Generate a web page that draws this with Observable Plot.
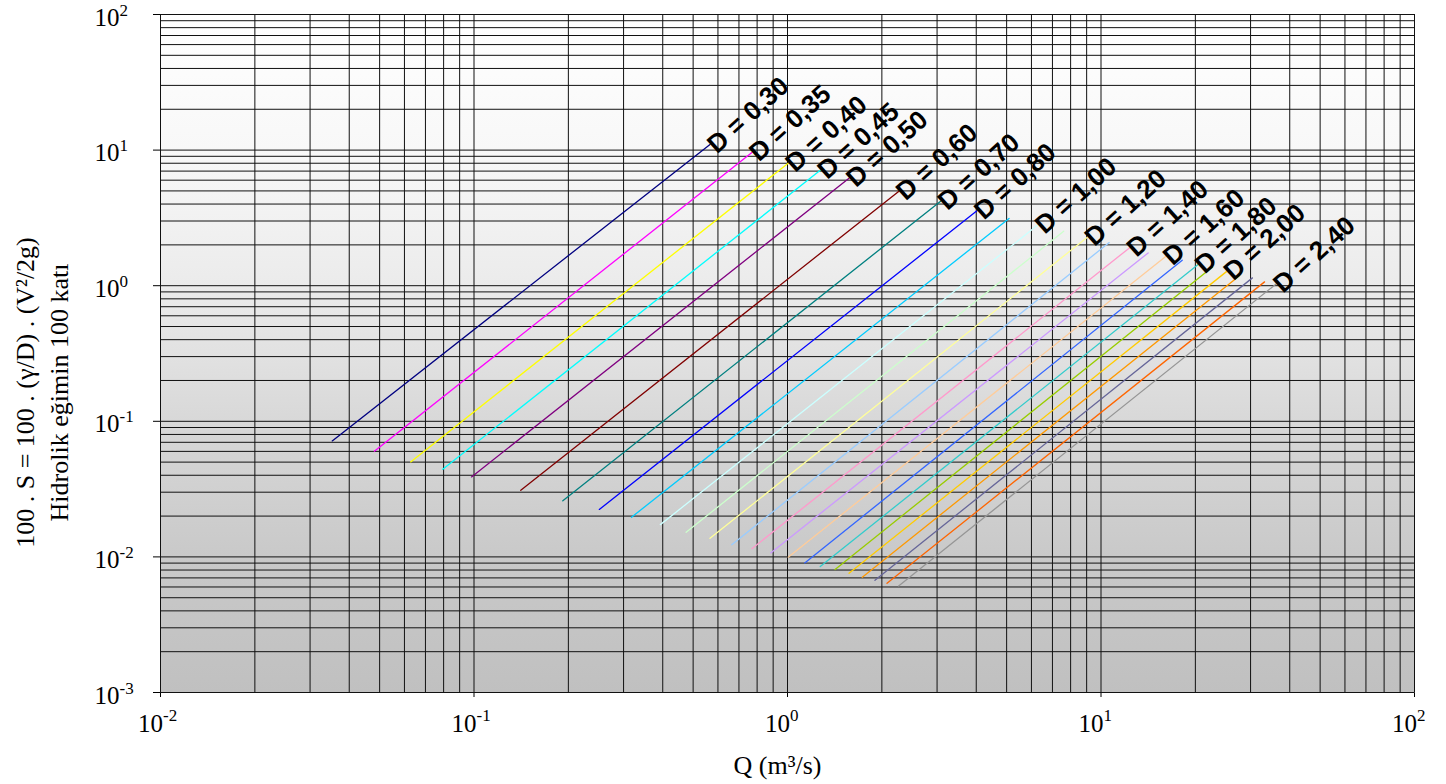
<!DOCTYPE html>
<html><head><meta charset="utf-8">
<script src="https://cdn.jsdelivr.net/npm/d3@7"></script>
<script src="https://cdn.jsdelivr.net/npm/@observablehq/plot@0.6"></script>
<style>html,body{margin:0;padding:0;background:#fff;overflow:hidden}</style>
</head><body><div id="chart"></div>
<script>
// Pipe diameters (m), one line each
const diameters = [0.30,0.35,0.40,0.45,0.50,0.60,0.70,0.80,0.90,1.00,1.10,1.20,1.30,1.40,1.50,1.60,1.70,1.80,1.90,2.00,2.10,2.20,2.30,2.40];
// Line start (Q, 100.S)
const qStart = [0.0353,0.0481,0.0628,0.0795,0.0982,0.141,0.192,0.251,0.318,0.393,0.475,0.566,0.664,0.770,0.884,1.005,1.135,1.272,1.418,1.571,1.732,1.901,2.077,2.262];
const yStart = [0.0717,0.0602,0.0502,0.0443,0.0389,0.0310,0.0259,0.0224,0.0196,0.0173,0.0152,0.0137,0.0123,0.0115,0.0107,0.00995,0.00903,0.00850,0.00807,0.00758,0.00708,0.00673,0.00639,0.00611];
// Line end (Q, 100.S)
const qEnd = [0.566,0.770,1.005,1.272,1.571,2.262,3.079,4.021,5.089,6.283,7.603,9.048,10.62,12.32,14.14,16.08,18.16,20.36,22.68,25.13,27.71,30.41,33.24,36.19];
const yEnd = [11.0,9.6,8.0,7.1,6.2,4.96,4.2,3.57,3.13,2.8,2.52,2.28,2.08,1.90,1.745,1.64,1.54,1.43,1.376,1.27,1.19,1.142,1.067,1.03];
const colors = ["#000080","#ff00ff","#ffff00","#00ffff","#800080","#800000","#008080","#0000ff","#00ccff","#ccffff","#ccffcc","#ffff99","#99ccff","#ff99cc","#cc99ff","#ffcc99","#3366ff","#33cccc","#99cc00","#ffcc00","#ff9900","#666699","#ff6600","#969696"];
const labeledDiameters = [0.30,0.35,0.40,0.45,0.50,0.60,0.70,0.80,1.00,1.20,1.40,1.60,1.80,2.00,2.40];
const xTickValues = [0.01,0.1,1,10,100];
const xTickExps = ["-2","-1","0","1","2"];
const yTickValues = [0.001,0.01,0.1,1,10,100];
const yTickExps = ["-3","-2","-1","0","1","2"];
const xTitle = "Q (m³/s)";
const yTitle1 = "100 . S = 100 . (γ/D) . (V²/2g)";
const yTitle2 = "Hidrolik eğimin 100 katı";

const lineData = diameters.flatMap((d, i) => [
  {d, q: qStart[i], s: yStart[i], color: colors[i]},
  {d, q: qEnd[i], s: yEnd[i], color: colors[i]}
]);
const labelData = labeledDiameters.map(d => {
  const i = diameters.indexOf(d);
  return {q: qEnd[i], s: yEnd[i], text: "D = " + d.toFixed(2).replace(".", ",")};
});
const mult = [1,2,3,4,5,6,7,8,9];
const xGrid = [0.01,0.1,1,10].flatMap(b => mult.map(m => b * m)).concat([100]);
const yGrid = [0.001,0.01,0.1,1,10].flatMap(b => mult.map(m => b * m)).concat([100]);

const defs = () => {
  const g = d3.create("svg:defs");
  const lg = g.append("linearGradient").attr("id", "bgGrad").attr("x1", 0).attr("y1", 0).attr("x2", 0).attr("y2", 1);
  [[0, "#ffffff"], [0.2, "#f8f8f8"], [0.4, "#ebebeb"], [0.6, "#d8d8d8"], [0.8, "#c9c9c9"], [1, "#c0c0c0"]]
    .forEach(([o, c]) => lg.append("stop").attr("offset", o).attr("stop-color", c));
  return g.node();
};

const chart = Plot.plot({
  width: 1446,
  height: 784,
  marginLeft: 160,
  marginRight: 32,
  marginTop: 14,
  marginBottom: 92,
  style: {fontFamily: "'Liberation Serif', 'Times New Roman', serif", background: "#fff", color: "#000"},
  x: {type: "log", domain: [0.01, 100], ticks: xTickValues, tickFormat: () => "", tickSize: 5, label: null},
  y: {type: "log", domain: [0.001, 100], ticks: yTickValues, tickFormat: () => "", tickSize: 7, label: null},
  color: {type: "identity"},
  marks: [
    defs,
    Plot.frame({fill: "url(#bgGrad)", stroke: null}),
    Plot.ruleX(xGrid, {stroke: "#111", strokeWidth: 1}),
    Plot.ruleY(yGrid, {stroke: "#111", strokeWidth: 1}),
    Plot.line(lineData, {x: "q", y: "s", z: "d", stroke: "color", strokeWidth: 1.3}),
    Plot.text(labelData, {x: "q", y: "s", text: "text", rotate: -42, textAnchor: "start", lineAnchor: "bottom",
      dx: 7, dy: 10, fontSize: 26, fontWeight: "bold", fontFamily: "'Liberation Sans', Arial, sans-serif", fill: "#000"}),
    // x tick labels
    Plot.text(xTickValues, {x: d => d, frameAnchor: "bottom", text: () => "10", textAnchor: "end", lineAnchor: "bottom", dx: 2.5, dy: 39, fontSize: 25, fill: "#000"}),
    Plot.text(xTickValues, {x: d => d, frameAnchor: "bottom", text: (d, i) => xTickExps[i], textAnchor: "start", lineAnchor: "bottom", dx: 2.5, dy: 28, fontSize: 17, fill: "#000"}),
    // y tick labels
    Plot.text(yTickValues, {y: d => d, frameAnchor: "left", text: () => "10", textAnchor: "end", lineAnchor: "bottom", dx: -41, dy: 11, fontSize: 25, fill: "#000"}),
    Plot.text(yTickValues, {y: d => d, frameAnchor: "left", text: (d, i) => yTickExps[i], textAnchor: "start", lineAnchor: "bottom", dx: -41, dy: 1, fontSize: 17, fill: "#000"}),
    // axis titles
    Plot.text([0], {frameAnchor: "bottom", text: () => xTitle, textAnchor: "middle", lineAnchor: "bottom", dx: -10, dy: 81, fontSize: 26, fill: "#000"}),
    Plot.text([0], {frameAnchor: "left", text: () => yTitle1, rotate: -90, textAnchor: "middle", lineAnchor: "bottom", dx: -127, dy: 39, fontSize: 26, fill: "#000"}),
    Plot.text([0], {frameAnchor: "left", text: () => yTitle2, rotate: -90, textAnchor: "middle", lineAnchor: "bottom", dx: -93, dy: 39, fontSize: 26, fill: "#000"})
  ]
});
document.getElementById("chart").appendChild(chart);
</script>
</body></html>
